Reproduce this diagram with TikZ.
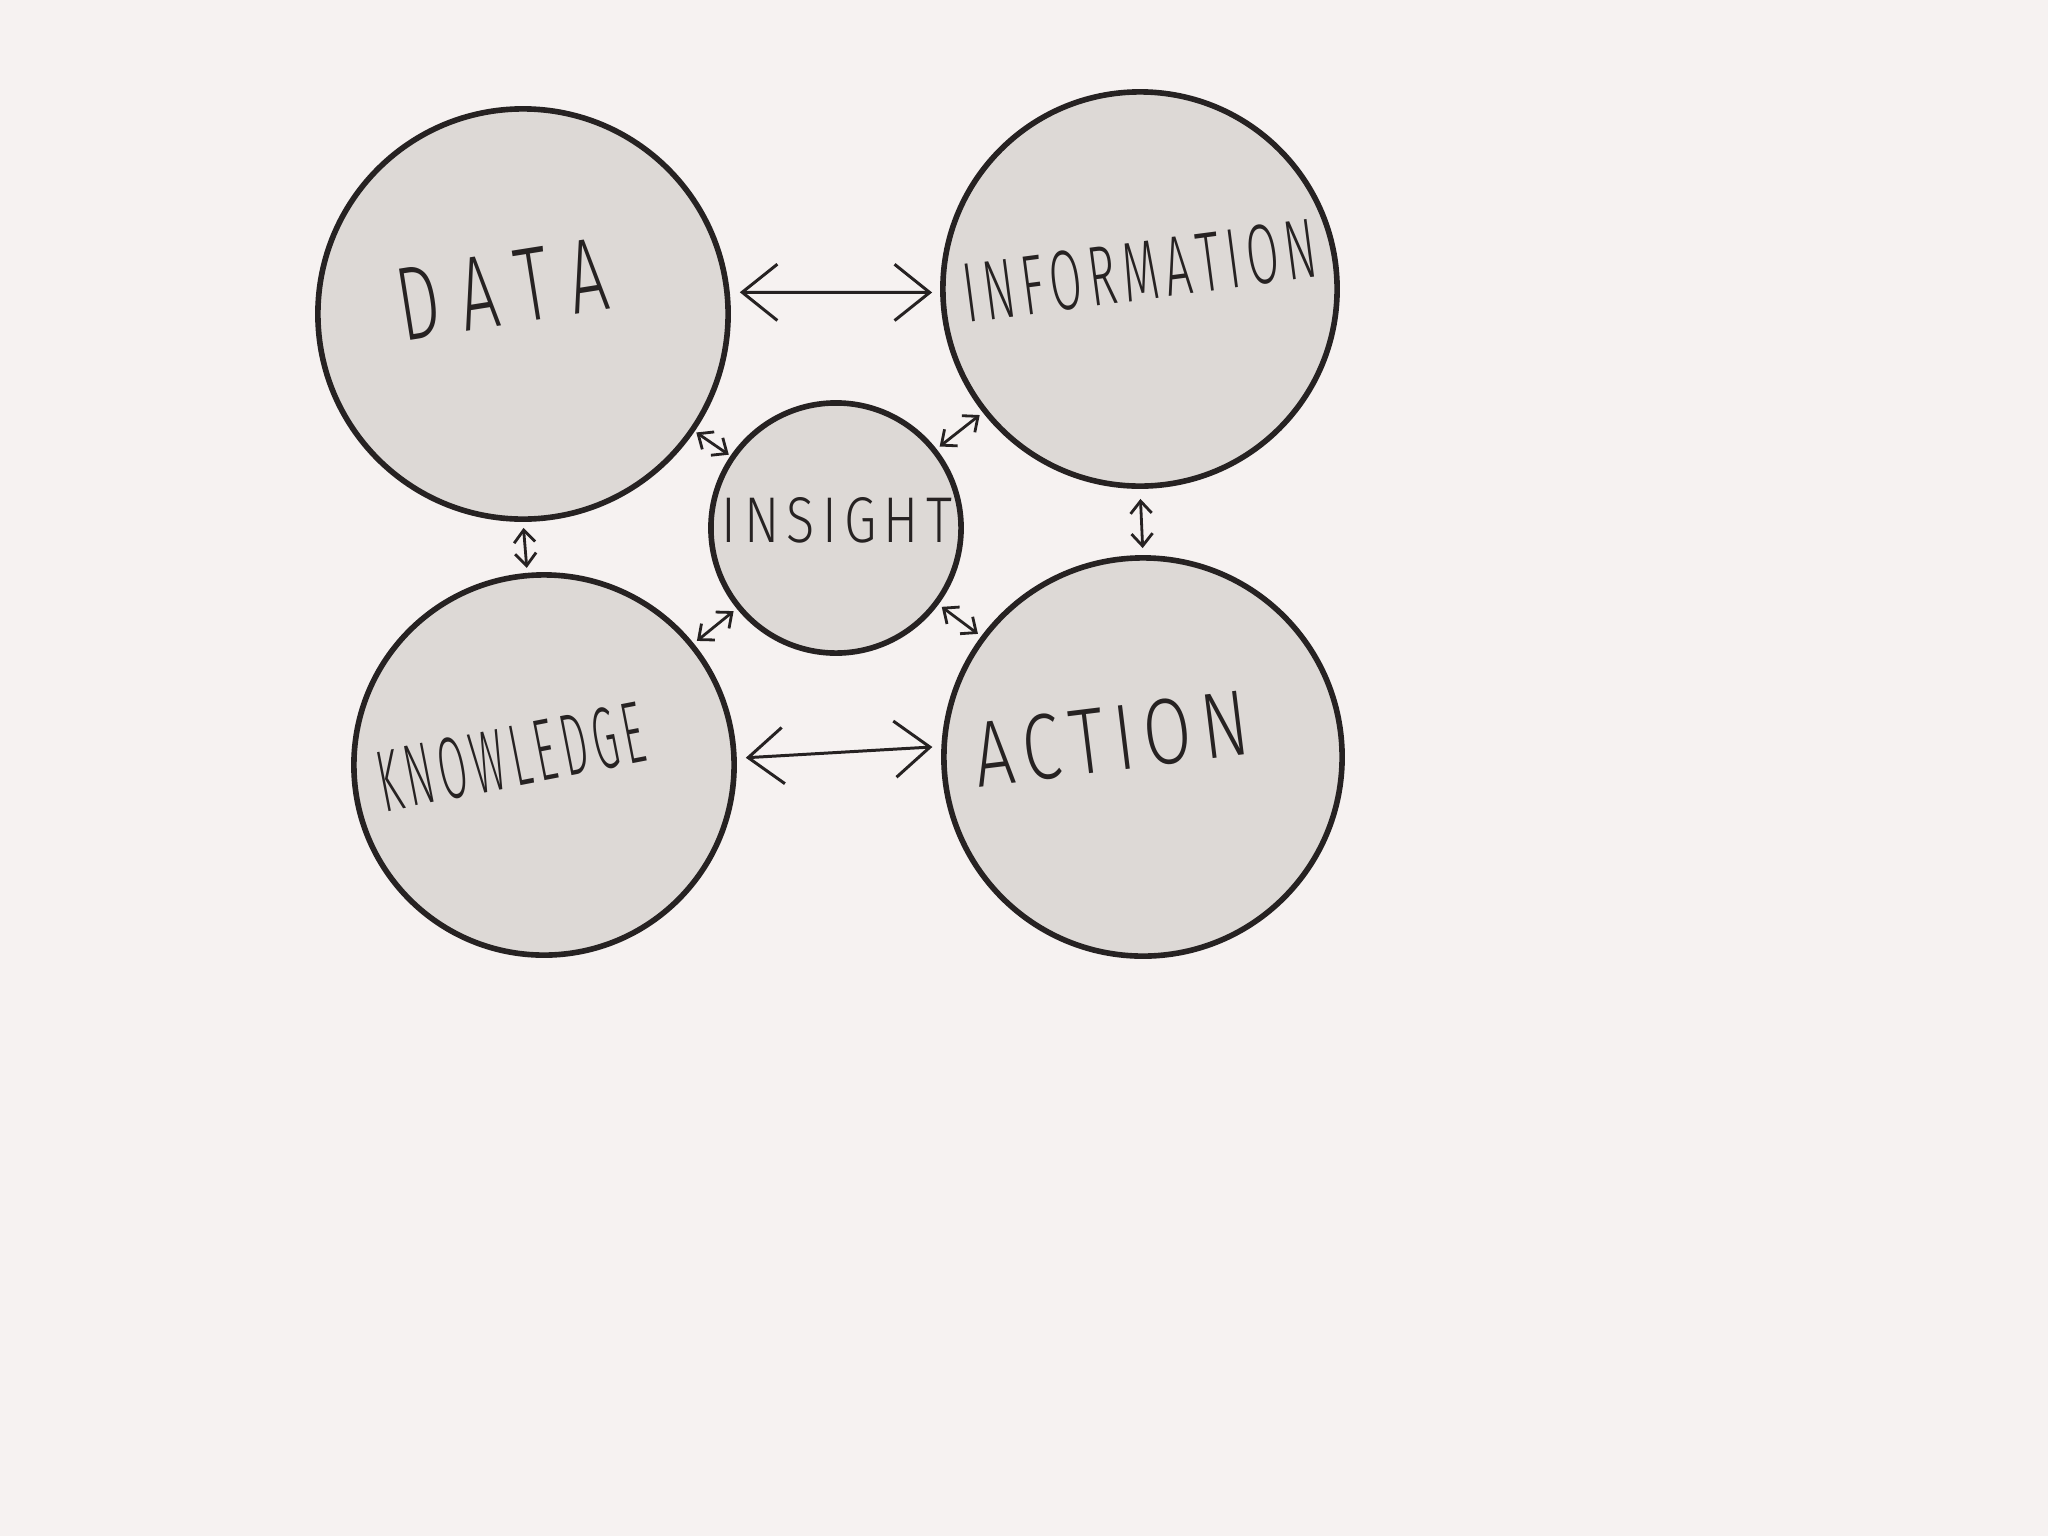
\documentclass[tikz,border=0pt]{standalone}
\usepackage{fontspec}
\newfontfamily\hand{Fira Sans Light}[LetterSpace=14.0,Kerning=Off]
\newfontfamily\handwide{Fira Sans Light}[LetterSpace=30.0,Kerning=Off]
\usetikzlibrary{arrows.meta}
\definecolor{bg}{RGB}{246,242,241}
\definecolor{disk}{RGB}{221,217,214}
\definecolor{ink}{RGB}{38,34,34}
\begin{document}
\begin{tikzpicture}[x=0.01cm,y=-0.01cm,
  bubble/.style={circle,draw=ink,fill=disk,line width=1.6pt,inner sep=0pt},
  word/.style={inner sep=0pt,text=ink,font=\hand},
  big/.style={draw=ink,line width=0.85pt,{Straight Barb[length=10pt,width=16pt]}-{Straight Barb[length=10pt,width=16pt]}},
  small/.style={draw=ink,line width=0.8pt,{Straight Barb[length=3.5pt,width=6pt]}-{Straight Barb[length=3.5pt,width=6pt]}}]
\fill[bg] (0,0) rectangle (2048,1536);
\useasboundingbox (0,0) rectangle (2048,1536);
\node[bubble,minimum size=4.10cm] (data) at (523,314) {};
\node[bubble,minimum size=3.94cm] (info) at (1140,289) {};
\node[bubble,minimum size=2.50cm] (ins) at (836,528) {};
\node[bubble,minimum size=3.80cm] (know) at (544,765) {};
\node[bubble,minimum size=3.98cm] (act) at (1143,757) {};
\node[word,font=\handwide,rotate=9] (tdata) at (502,289) {\resizebox{2.10cm}{0.72cm}{DATA}};
\node[word,rotate=7.5] (tinfo) at (1140,271) {\resizebox{3.55cm}{0.59cm}{INFORMATION}};
\node[word] (tins) at (837,520) {\resizebox{2.30cm}{0.45cm}{INSIGHT}};
\node[word,rotate=11] (tknow) at (511,757) {\resizebox{2.70cm}{0.61cm}{KNOWLEDGE}};
\node[word,rotate=7] (tact) at (1111,739) {\resizebox{2.75cm}{0.65cm}{ACTION}};
\draw[big,shorten <=0.1cm,shorten >=0.08cm] (data.6) -- (info.181);
\draw[big,shorten <=0.09cm,shorten >=0.09cm] (know.2) -- (act.177);
\draw[small,shorten <=0.06cm,shorten >=0.05cm] (data.-90) -- (know.95);
\draw[small,shorten <=0.1cm,shorten >=0.07cm] (info.south) -- (act.north);
\draw[small,shorten <=0.02cm,shorten >=0.02cm] (data) -- (ins);
\draw[small,shorten <=0.04cm,shorten >=0.04cm] (info) -- (ins);
\draw[small,shorten <=0.04cm,shorten >=0.04cm] (know) -- (ins);
\draw[small,shorten <=0.04cm,shorten >=0.04cm] (act) -- (ins);
\end{tikzpicture}
\end{document}
